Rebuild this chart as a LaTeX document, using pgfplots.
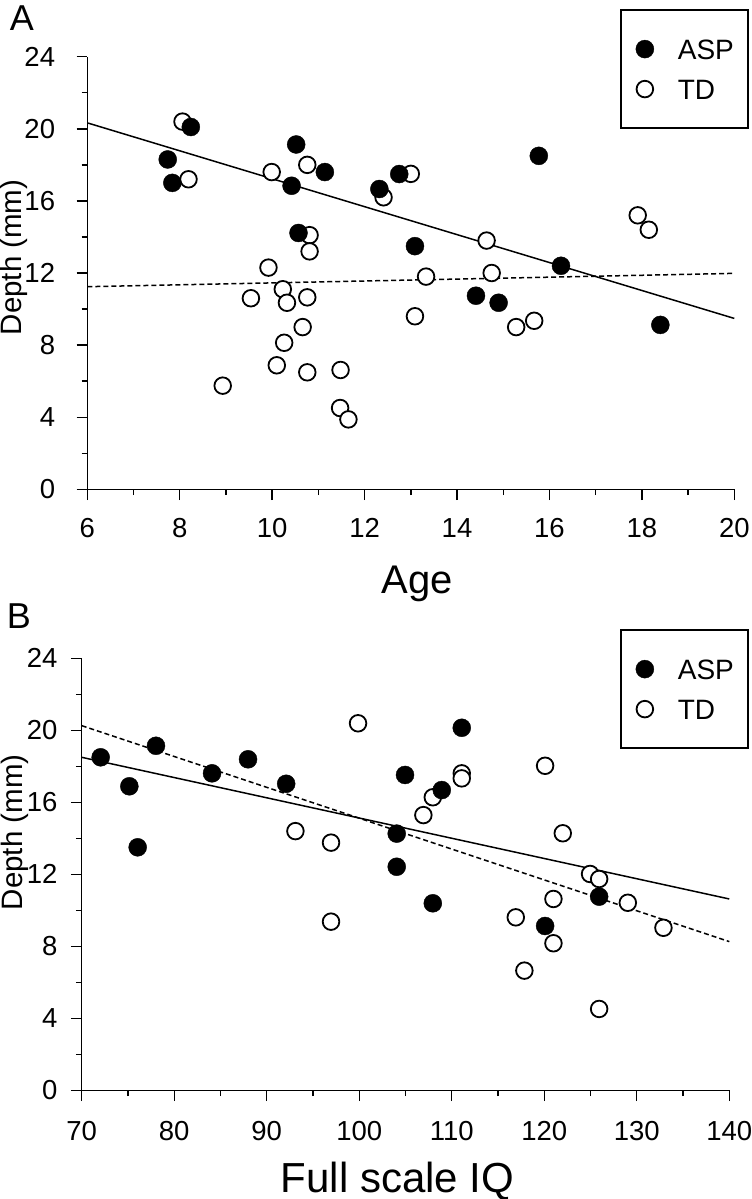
\documentclass[border=0pt]{standalone}
\usepackage{fontspec}
\setmainfont{Liberation Sans}
\usepackage{pgfplots}
\usepackage{pgfplotstable}
\pgfplotsset{compat=1.18}

\pgfplotstableread{
x y
8.06 20.4
8.19 17.2
9.99 17.6
10.76 18.0
10.81 14.1
10.81 13.2
9.92 12.3
10.23 11.1
12.41 16.2
13.00 17.5
17.91 15.2
18.15 14.4
14.64 13.8
13.33 11.8
14.75 12.0
13.09 9.6
15.28 9.0
15.67 9.35
9.54 10.6
10.32 10.35
10.76 10.65
10.66 9.0
10.26 8.13
10.10 6.88
10.76 6.49
8.93 5.75
11.48 6.62
11.47 4.51
11.65 3.88
}\tdA

\pgfplotstableread{
x y
8.24 20.1
7.74 18.3
7.84 17.0
10.52 19.13
11.14 17.6
10.42 16.84
10.57 14.22
12.32 16.66
12.75 17.49
15.77 18.5
13.09 13.49
16.25 12.4
14.41 10.74
14.90 10.35
18.40 9.12
}\aspA

\pgfplotstableread{
x y
99.87 20.39
93.10 14.4
96.95 13.76
96.95 9.37
111.08 17.61
111.08 17.33
107.95 16.28
106.93 15.29
120.09 18.03
122.00 14.28
124.95 12.02
125.93 11.74
120.99 10.63
129.03 10.42
116.92 9.61
120.99 8.17
132.88 9.03
117.85 6.65
125.93 4.52
}\tdB

\pgfplotstableread{
x y
72.05 18.5
75.15 16.89
78.03 19.14
84.09 17.61
87.98 18.39
92.10 17.03
76.05 13.5
111.08 20.14
104.95 17.52
108.92 16.68
104.05 14.26
104.05 12.42
107.95 10.39
125.93 10.76
120.09 9.13
}\aspB

\pgfplotsset{
  asp/.style={only marks, mark=*, mark size=9pt, mark options={fill=black, draw=black, line width=0.4pt}},
  td/.style={only marks, mark=*, mark size=8.3pt, mark options={fill=white, draw=black, line width=1.8pt}},
  panel/.style={
    scale only axis, axis lines=left, axis line style={-, line width=1.4pt},
    tick align=outside, major tick length=10.7pt, minor tick length=5.7pt,
    every tick/.style={black, line width=1.4pt},
    tick label style={font=\fontsize{27.5}{31}\selectfont},
    /pgf/number format/assume math mode=true,
    ymin=0, ymax=24, ytick={0,4,...,24}, minor y tick num=1,
    clip=false,
    legend cell align=left,
    legend image code/.code={\path[draw=none,fill=none] (0pt,-10pt) rectangle (20pt,10pt); \draw[##1] plot coordinates {(10pt,0pt)};},
    legend style={draw=black, line width=2.2pt, inner xsep=14pt, inner ysep=29pt,
      row sep=20pt, column sep=23pt,
      font=\fontsize{28}{32}\selectfont,
      nodes={inner sep=0pt, text height=20pt, text depth=0pt}},
  },
}

\begin{document}
\begin{tikzpicture}
\useasboundingbox (0pt,0pt) rectangle (752pt,-1199pt);

\begin{axis}[panel, at={(87.3pt,-489.3pt)}, anchor=south west,
  width=647pt, height=432.6pt,
  xmin=6, xmax=20, xtick={6,8,...,20}, minor x tick num=1,
  xticklabel style={yshift=-14.5pt, text height=19.7pt, text depth=0pt},
  yticklabel style={xshift=-18pt},
  legend style={at={(axis description cs:1.0227,1.1103)}, anchor=north east}]
\addlegendimage{asp}\addlegendentry{ASP}
\addlegendimage{td}\addlegendentry{TD}
\addplot[black, line width=1.5pt, forget plot] coordinates {(6,20.33) (20,9.48)};
\addplot[black, line width=1.5pt, dash pattern=on 5pt off 3pt, forget plot] coordinates {(6,11.24) (20,11.98)};
\addplot[td, forget plot] table[x=x,y=y] {\tdA};
\addplot[asp, forget plot] table[x=x,y=y] {\aspA};
\node[rotate=90, font=\fontsize{29.5}{33}\selectfont] at (axis description cs:-0.1133,0.536) {Depth (mm)};
\node[anchor=base, font=\fontsize{40}{44}\selectfont] at (axis description cs:0.51,-0.2404) {Age};
\end{axis}

\begin{axis}[panel, at={(81.7pt,-1090.3pt)}, anchor=south west,
  width=647.6pt, height=432pt,
  xmin=70, xmax=140, xtick={70,80,...,140}, minor x tick num=1,
  xticklabel style={yshift=-16.5pt, text height=19.7pt, text depth=0pt},
  yticklabel style={xshift=-10pt},
  legend style={at={(axis description cs:1.0304,1.0678)}, anchor=north east}]
\addlegendimage{asp}\addlegendentry{ASP}
\addlegendimage{td}\addlegendentry{TD}
\addplot[black, line width=1.5pt, forget plot] coordinates {(70,18.5) (140,10.63)};
\addplot[black, line width=1.5pt, dash pattern=on 5pt off 3pt, forget plot] coordinates {(70,20.26) (140,8.26)};
\addplot[td, forget plot] table[x=x,y=y] {\tdB};
\addplot[asp, forget plot] table[x=x,y=y] {\aspB};
\node[rotate=90, font=\fontsize{29.5}{33}\selectfont] at (axis description cs:-0.103,0.597) {Depth (mm)};
\node[anchor=base, font=\fontsize{42}{46}\selectfont] at (axis description cs:0.4877,-0.2354) {Full scale IQ};
\end{axis}

\node[font=\fontsize{36}{40}\selectfont] at (22pt,-18.5pt) {A};
\node[font=\fontsize{36}{40}\selectfont] at (19pt,-616pt) {B};
\end{tikzpicture}
\end{document}
